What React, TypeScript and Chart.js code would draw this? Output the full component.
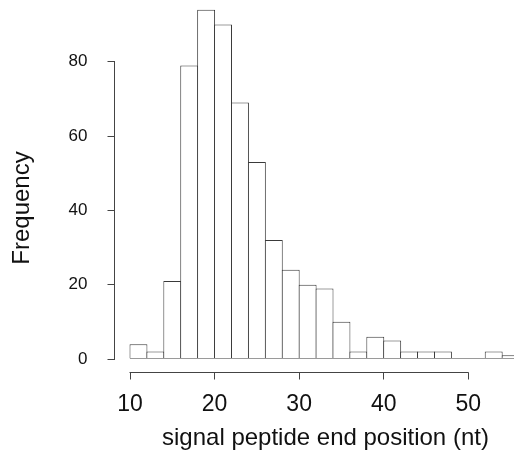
import React, { useEffect, useRef } from "react";
import { Chart, registerables } from "chart.js";

Chart.register(...registerables);

// Histogram bins (mid-points of 2-nt wide bins) and their frequencies
const binMids = [11, 13, 15, 17, 19, 21, 23, 25, 27, 29, 31, 33, 35, 37, 39, 41, 43, 45, 47, 49, 51, 53, 55];
const frequencies = [4, 2, 21, 79, 94, 90, 69, 53, 32, 24, 20, 19, 10, 2, 6, 5, 2, 2, 2, 0, 0, 2, 1];
const binStartFirst = 10;
const binEndLast = 56;
const yTicks = [0, 20, 40, 60, 80];
const xTicks = [10, 20, 30, 40, 50];
const xLabel = "signal peptide end position (nt)";
const yLabel = "Frequency";

const FONT = "'Liberation Sans', Arial, Helvetica, sans-serif";

const rAxesPlugin = {
  id: "rAxes",
  afterDatasetsDraw(chart: any) {
    const { ctx, chartArea, scales } = chart;
    const x = scales.x;
    const y = scales.y;
    ctx.save();
    // baseline under bars
    ctx.strokeStyle = "#9a9a9a";
    ctx.lineWidth = 1;
    ctx.beginPath();
    const by = y.getPixelForValue(0) - 0.5;
    ctx.moveTo(x.getPixelForValue(binStartFirst), by);
    ctx.lineTo(Math.min(x.getPixelForValue(binEndLast), chartArea.right), by);
    ctx.stroke();
    ctx.restore();
  },
  afterDraw(chart: any) {
    const { ctx, chartArea, scales } = chart;
    const x = scales.x;
    const y = scales.y;
    ctx.save();
    ctx.strokeStyle = "#444";
    ctx.lineWidth = 1;
    // y axis line spanning first to last tick
    ctx.beginPath();
    ctx.moveTo(chartArea.left, y.getPixelForValue(yTicks[0]) + 0.5);
    ctx.lineTo(chartArea.left, y.getPixelForValue(yTicks[yTicks.length - 1]) - 0.5);
    ctx.stroke();
    // x axis line spanning first to last tick
    ctx.beginPath();
    ctx.moveTo(x.getPixelForValue(xTicks[0]) - 0.5, chartArea.bottom);
    ctx.lineTo(x.getPixelForValue(xTicks[xTicks.length - 1]) + 0.5, chartArea.bottom);
    ctx.stroke();

    ctx.fillStyle = "#111";
    // x title
    ctx.font = `24px ${FONT}`;
    ctx.textAlign = "left";
    ctx.textBaseline = "alphabetic";
    ctx.fillText(xLabel, 162, 445);
    // y title
    ctx.translate(29, 208);
    ctx.rotate(-Math.PI / 2);
    ctx.font = `24px ${FONT}`;
    ctx.textAlign = "center";
    ctx.fillText(yLabel, 0, 0);
    ctx.restore();
  },
};

export default function App() {
  const canvasRef = useRef<HTMLCanvasElement | null>(null);

  useEffect(() => {
    if (!canvasRef.current) return;
    const chart = new Chart(canvasRef.current, {
      type: "bar",
      data: {
        datasets: [
          {
            data: binMids.map((m, i) => ({ x: m, y: frequencies[i] })),
            backgroundColor: "#ffffff",
            borderColor: "#3a3a3a",
            borderWidth: 1,
            borderSkipped: "start",
            barPercentage: 1.06,
            categoryPercentage: 1,
          },
        ],
      },
      options: {
        responsive: false,
        animation: false,
        layout: { padding: 0, autoPadding: false },
        plugins: {
          legend: { display: false },
          tooltip: { enabled: false },
        },
        scales: {
          x: {
            type: "linear",
            offset: false,
            min: 8.167,
            max: 55.4,
            border: { display: false },
            grid: { offset: false, drawOnChartArea: false, drawTicks: true, tickLength: 7, color: "#444" },
            afterBuildTicks: (s: any) => {
              s.ticks = xTicks.map((v) => ({ value: v }));
            },
            afterFit: (s: any) => {
              s.height = 77.5;
              s.paddingLeft = 0;
              s.paddingRight = 0;
              s.paddingTop = 0;
              s.paddingBottom = 0;
            },
            ticks: {
              color: "#111",
              font: { family: FONT, size: 23 },
              padding: 11,
              maxRotation: 0,
              autoSkip: false,
            },
          },
          y: {
            type: "linear",
            min: -3.63,
            max: 96.6,
            border: { display: false },
            grid: { drawOnChartArea: false, drawTicks: true, tickLength: 7, color: "#444" },
            afterBuildTicks: (s: any) => {
              s.ticks = yTicks.map((v) => ({ value: v }));
            },
            afterFit: (s: any) => {
              s.width = 114.5;
              s.paddingLeft = 0;
              s.paddingRight = 0;
              s.paddingTop = 0;
              s.paddingBottom = 0;
            },
            ticks: {
              color: "#111",
              font: { family: FONT, size: 17 },
              padding: 20,
              autoSkip: false,
            },
          },
        },
      },
      plugins: [rAxesPlugin],
    });
    return () => chart.destroy();
  }, []);

  return (
    <div style={{ position: "absolute", left: 0, top: 0, width: 514, height: 450, background: "#fff" }}>
      <canvas ref={canvasRef} width={514} height={450} style={{ display: "block" }} />
    </div>
  );
}
